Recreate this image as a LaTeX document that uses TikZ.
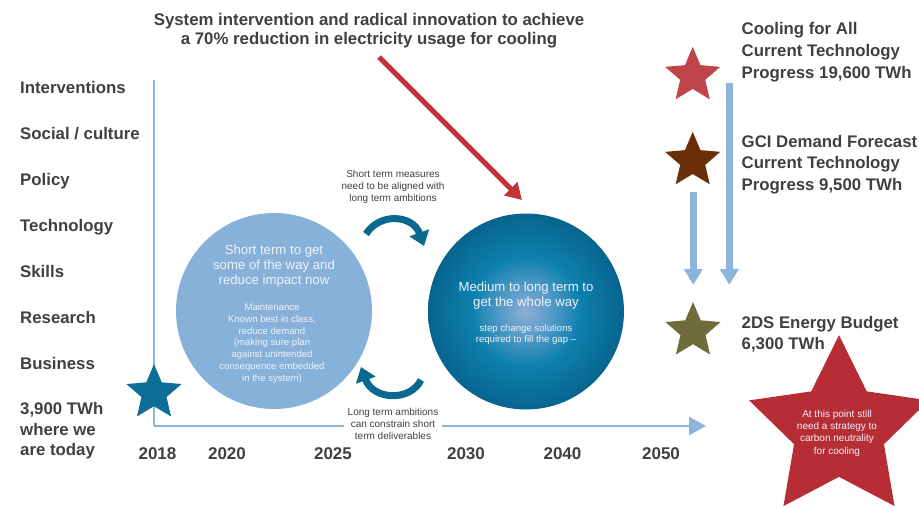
\documentclass[tikz,border=0pt]{standalone}
\usepackage{fontspec}
\setmainfont{Liberation Sans}
\usetikzlibrary{shapes.geometric,arrows.meta}
\definecolor{labelgray}{HTML}{404040}
\definecolor{axisblue}{HTML}{8CB4DC}
\definecolor{lightcirc}{HTML}{87B1D9}
\definecolor{circtext}{HTML}{EEF3FA}
\definecolor{tealc}{HTML}{0B6890}
\definecolor{redarrow}{HTML}{C2333B}
\definecolor{bigred}{HTML}{B72D36}
\definecolor{starred}{HTML}{C0454B}
\definecolor{starbrown}{HTML}{6A2E08}
\definecolor{starolive}{HTML}{6F6B3A}
\definecolor{starblue}{HTML}{0D6F97}
\definecolor{ballC}{HTML}{8EAFD3}
\definecolor{ballMa}{HTML}{5A9CC9}
\definecolor{ballMb}{HTML}{0E80AE}
\definecolor{ballE}{HTML}{07648E}
\pgfdeclareradialshading{darkball}{\pgfpoint{0bp}{0bp}}{color(0bp)=(ballC); color(6bp)=(ballMa); color(14bp)=(ballMb); color(25bp)=(ballE); color(50bp)=(ballE)}
\tikzset{
  biglabel/.style={font=\fontsize{16.8}{19.5}\selectfont\bfseries, text=labelgray, inner sep=0pt},
  lefttag/.style={biglabel, anchor=base west},
  yearlbl/.style={font=\fontsize{17}{20}\selectfont\bfseries, text=labelgray, inner sep=0pt, anchor=base},
  note/.style={font=\fontsize{10}{11.8}\selectfont, text=labelgray, align=center, inner sep=0pt, anchor=north},
  circhead/.style={font=\fontsize{13.2}{15.3}\selectfont, text=circtext, align=center, inner sep=0pt, anchor=north},
  circsmall/.style={font=\fontsize{9.6}{11.9}\selectfont, text=circtext, align=center, inner sep=0pt, anchor=north},
  starmark/.style={star, star points=5, star point ratio=2.2, inner sep=0pt, draw=none, minimum size=58pt},
  axisline/.style={draw=axisblue, line width=2.7pt},
  tealarrow/.style={draw=tealc, line width=7pt, -{Triangle[width=20pt,length=14pt]}},
  bluearrow/.style={draw=axisblue, line width=6.5pt, -{Triangle[width=18pt,length=16pt]}},
}
\begin{document}
\begin{tikzpicture}[x=1pt,y=-1pt]
\useasboundingbox (0,0) rectangle (919,507);
\clip (0,0) rectangle (919,507);

% circles
\node[circle, minimum size=196pt, fill=lightcirc, inner sep=0pt] (shortc) at (274,311) {};
\node[circle, minimum size=196pt, shading=darkball, inner sep=0pt] (longc) at (526,311.5) {};

% axes
\coordinate (axtop) at (154,80);
\coordinate (axorig) at (154,426);
\coordinate (axend) at (706,426);
\draw[axisline, line cap=butt] (axtop) -- (axorig);
\draw[axisline, -{Triangle[width=18pt,length=17pt]}] (axorig) -- (axend);

% title and red arrow
\node[biglabel, align=center, anchor=north] (title) at (369,13.1)
  {System intervention and radical innovation to achieve\\a 70\% reduction in electricity usage for cooling};
\coordinate (redstart) at (379,57);
\coordinate (redend) at (522,200);
\draw[draw=redarrow, line width=5pt, -{Triangle[width=18pt,length=16pt]}] (redstart) -- (redend);

% left labels
\node[lefttag] (lint) at (20,93) {Interventions};
\node[lefttag] (lsoc) at (20,139) {Social / culture};
\node[lefttag] (lpol) at (20,185) {Policy};
\node[lefttag] (ltec) at (20,231) {Technology};
\node[lefttag] (lski) at (20,277) {Skills};
\node[lefttag] (lres) at (20,323) {Research};
\node[lefttag] (lbus) at (20,369) {Business};
\node[biglabel, align=left, anchor=north west, font=\fontsize{16.8}{20.5}\selectfont\bfseries] (ltoday) at (20,402.2) {3,900 TWh\\where we\\are today};

% years
\node[yearlbl] (y18) at (157.5,459) {2018};
\node[yearlbl] (y20) at (227,459) {2020};
\node[yearlbl] (y25) at (333,459) {2025};
\node[yearlbl] (y30) at (466,459) {2030};
\node[yearlbl] (y40) at (562.5,459) {2040};
\node[yearlbl] (y50) at (661,459) {2050};

% stars
\node[starmark, fill=starblue] (sblue) at (154,393) {};
\node[starmark, fill=starred] (sred) at (692.7,75.8) {};
\node[starmark, fill=starbrown] (sbrown) at (692.7,160.8) {};
\node[starmark, fill=starolive] (solive) at (693,331) {};
\node[star, star points=5, star point ratio=2.0, inner sep=0pt, minimum size=189pt, fill=bigred] (sbig) at (839,429.6) {};
\node[font=\fontsize{10}{12.2}\selectfont, text=circtext, align=center, inner sep=0pt, anchor=north] (bigtext) at (837,410)
  {At this point still\\need a strategy to\\carbon neutrality\\for cooling};

% blue arrows on the right
\coordinate (blA1) at (729.3,83.3);
\coordinate (blA2) at (729.3,285);
\coordinate (blB1) at (693.3,191.7);
\coordinate (blB2) at (693.3,285);
\draw[bluearrow] (blA1) -- (blA2);
\draw[bluearrow] (blB1) -- (blB2);

% right texts
\node[biglabel, align=left, anchor=north west, font=\fontsize{16.8}{22}\selectfont\bfseries] (rcool) at (741.5,22.6)
  {Cooling for All\\Current Technology\\Progress 19,600 TWh};
\node[biglabel, align=left, anchor=north west, font=\fontsize{16.8}{21.5}\selectfont\bfseries] (rgci) at (741.5,135.1)
  {GCI Demand Forecast\\Current Technology\\Progress 9,500 TWh};
\node[biglabel, align=left, anchor=north west, font=\fontsize{16.8}{21}\selectfont\bfseries] (r2ds) at (741.5,316.1)
  {2DS Energy Budget\\6,300 TWh};

% circle texts
\node[circhead] (shead) at (274,244.6) {Short term to get\\some of the way and\\reduce impact now};
\node[circsmall] (ssmall) at (272,303.1) {Maintenance\\Known best in class,\\reduce demand\\(making sure plan\\against unintended\\consequence embedded\\in the system)};
\node[circhead] (lhead) at (526,281.6) {Medium to long term to\\get the whole way};
\node[circsmall, font=\fontsize{9.6}{11.4}\selectfont] (lsmall) at (526,324.1) {step change solutions\\required to fill the gap --};

% curved arrows
\coordinate (ta1) at (366,234);
\coordinate (ta2) at (424,246);
\draw[tealarrow] (ta1) .. controls (380,212) and (413,215) .. (ta2);
\coordinate (ba1) at (421,380);
\coordinate (ba2) at (361,367);
\draw[tealarrow] (ba1) .. controls (410,402) and (373,400) .. (ba2);

% notes
\node[note] (topnote) at (393,170.1) {Short term measures\\need to be aligned with\\long term ambitions};
\node[note, fill=white, inner xsep=4pt] (botnote) at (393,408.5) {Long term ambitions\\can constrain short\\term deliverables};
\end{tikzpicture}
\end{document}
